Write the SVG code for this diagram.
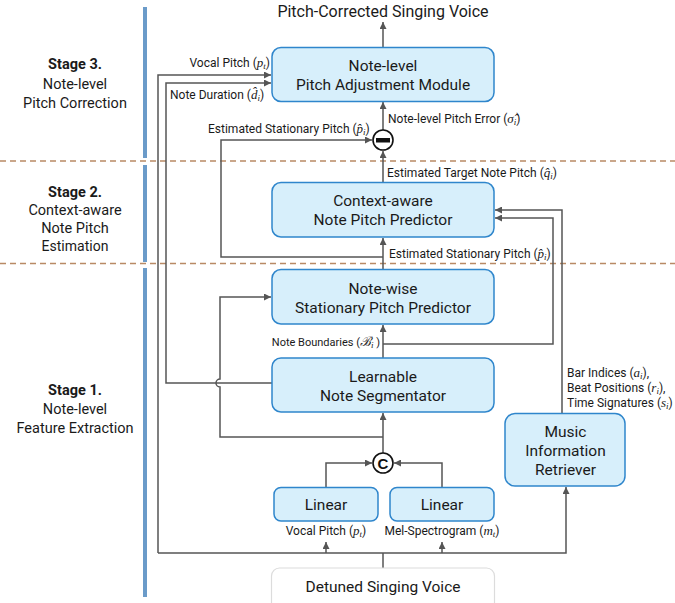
<svg xmlns="http://www.w3.org/2000/svg" width="675" height="603" viewBox="0 0 675 603">
<defs>
<style>
.bg{fill:#ffffff}
.box{fill:#d7effb;stroke:#2f86cc;stroke-width:1.5}
.inbox{fill:#ffffff;stroke:#dcdcdc;stroke-width:1.2}
.t{font-family:Roboto,"Liberation Sans",sans-serif;font-size:15.5px;fill:#1a1a1a;text-anchor:middle}
.st{font-family:Roboto,"Liberation Sans",sans-serif;font-size:14.5px;fill:#1a1a1a;text-anchor:middle}
.b{font-weight:bold}
.s{font-family:Roboto,"Liberation Sans",sans-serif;font-size:12px;fill:#1a1a1a}
.m{font-family:"Liberation Serif","DejaVu Serif",serif;font-style:italic;font-size:13px}
.sub{font-family:"Liberation Serif","DejaVu Serif",serif;font-style:italic;font-size:9px}
.c{fill:none;stroke:#555555;stroke-width:1.5}
.dash{stroke:#b98a66;stroke-width:1.3;stroke-dasharray:6 4}
.bar{fill:#6b9bc9}
.op{fill:#ffffff;stroke:#111111;stroke-width:1.6}
</style>
<marker id="ah" viewBox="0 0 10 10" refX="10" refY="5" markerWidth="8" markerHeight="7" markerUnits="userSpaceOnUse" orient="auto">
<path d="M0,0 L10,5 L0,10 z" fill="#555555"/>
</marker>
</defs>
<rect class="bg" x="0" y="0" width="675" height="603"/>

<g id="stage-separators">
<line class="dash" x1="0" y1="161" x2="675" y2="161"/>
<line class="dash" x1="0" y1="263.5" x2="675" y2="263.5"/>
<rect class="bar" x="143" y="7" width="4" height="151"/>
<rect class="bar" x="143" y="165" width="4" height="97"/>
<rect class="bar" x="143" y="268" width="4" height="329"/>
</g>

<g id="stage-labels">
<text class="st b" x="75" y="69">Stage 3.</text>
<text class="st" x="75" y="89">Note-level</text>
<text class="st" x="75" y="108">Pitch Correction</text>
<text class="st b" x="75" y="197">Stage 2.</text>
<text class="st" x="75" y="215">Context-aware</text>
<text class="st" x="75" y="233">Note Pitch</text>
<text class="st" x="75" y="251" style="font-size:14px">Estimation</text>
<text class="st b" x="75" y="395">Stage 1.</text>
<text class="st" x="75" y="414">Note-level</text>
<text class="st" x="75" y="433">Feature Extraction</text>
</g>

<g id="connectors">
<path class="c" d="M383,47 V22" marker-end="url(#ah)"/>
<path class="c" d="M383,130 V102" marker-end="url(#ah)"/>
<path class="c" d="M383,182 V151" marker-end="url(#ah)"/>
<path class="c" d="M383,257 H221 V140 H372" marker-end="url(#ah)"/>
<path class="c" d="M383,269 V238" marker-end="url(#ah)"/>
<path class="c" d="M383,358 V325" marker-end="url(#ah)"/>
<path class="c" d="M383,344 H553 V218 H495" marker-end="url(#ah)"/>
<path class="c" d="M562,413 V210 H495" marker-end="url(#ah)"/>
<path class="c" d="M383,453 V413" marker-end="url(#ah)"/>
<path class="c" d="M383,437 H220 V387 A4,4 0 0 1 220,379 V297 H271" marker-end="url(#ah)"/>
<path class="c" d="M272,383 H166 V83 H271" marker-end="url(#ah)"/>
<path class="c" d="M326,487 V463 H372" marker-end="url(#ah)"/>
<path class="c" d="M442,487 V463 H394" marker-end="url(#ah)"/>
<path class="c" d="M383,568 V553"/>
<path class="c" d="M158,553 H566 V487" marker-end="url(#ah)"/>
<path class="c" d="M158,553 V75 H271" marker-end="url(#ah)"/>
<path class="c" d="M326,553 V542" marker-end="url(#ah)"/>
<path class="c" d="M442,553 V542" marker-end="url(#ah)"/>
</g>

<g id="connector-labels">
<text class="t" x="383" y="17" style="font-size:16px">Pitch-Corrected Singing Voice</text>
<text class="s" x="270" y="67" text-anchor="end">Vocal Pitch (<tspan class="m">p</tspan><tspan class="sub" dy="2">t</tspan><tspan dy="-2">)</tspan></text>
<text class="s" x="170" y="99">Note Duration (<tspan class="m">d&#x302;</tspan><tspan class="sub" dy="2">i</tspan><tspan dy="-2">)</tspan></text>
<text class="s" x="388" y="123">Note-level Pitch Error (<tspan class="m">σ&#x302;</tspan><tspan class="sub" dy="2">i</tspan><tspan dy="-2">)</tspan></text>
<text class="s" x="208" y="133">Estimated Stationary Pitch (<tspan class="m">p&#x302;</tspan><tspan class="sub" dy="2">i</tspan><tspan dy="-2">)</tspan></text>
<text class="s" x="387" y="177">Estimated Target Note Pitch (<tspan class="m">q&#x302;</tspan><tspan class="sub" dy="2">i</tspan><tspan dy="-2">)</tspan></text>
<text class="s" x="389" y="258">Estimated Stationary Pitch (<tspan class="m">p&#x302;</tspan><tspan class="sub" dy="2">i</tspan><tspan dy="-2">)</tspan></text>
<text class="s" x="380" y="346" text-anchor="end" style="font-size:11px">Note Boundaries  (<tspan class="m">ℬ</tspan><tspan class="sub" dy="2">i</tspan><tspan dy="-2"> )</tspan></text>
<text class="s" x="567" y="377">Bar Indices (<tspan class="m">a</tspan><tspan class="sub" dy="2">i</tspan><tspan dy="-2">),</tspan></text>
<text class="s" x="567" y="392">Beat Positions (<tspan class="m">r</tspan><tspan class="sub" dy="2">i</tspan><tspan dy="-2">),</tspan></text>
<text class="s" x="567" y="407">Time Signatures (<tspan class="m">s</tspan><tspan class="sub" dy="2">i</tspan><tspan dy="-2">)</tspan></text>
<text class="s" x="326" y="535" text-anchor="middle">Vocal Pitch (<tspan class="m">p</tspan><tspan class="sub" dy="2">t</tspan><tspan dy="-2">)</tspan></text>
<text class="s" x="442" y="535" text-anchor="middle">Mel-Spectrogram (<tspan class="m">m</tspan><tspan class="sub" dy="2">t</tspan><tspan dy="-2">)</tspan></text>
</g>

<g id="pitch-adjustment">
<rect class="box" x="272" y="47.5" width="222" height="54" rx="9"/>
<text class="t" x="383" y="71">Note-level</text>
<text class="t" x="383" y="89.5">Pitch Adjustment Module</text>
</g>

<g id="subtract">
<circle class="op" cx="383" cy="140" r="10"/>
<rect x="376" y="138" width="14" height="4.5" fill="#111111"/>
</g>

<g id="context-predictor">
<rect class="box" x="272" y="182.5" width="222" height="54.5" rx="9"/>
<text class="t" x="383" y="206">Context-aware</text>
<text class="t" x="383" y="225">Note Pitch Predictor</text>
</g>

<g id="stationary-predictor">
<rect class="box" x="272" y="269.5" width="222" height="54.5" rx="9"/>
<text class="t" x="383" y="294">Note-wise</text>
<text class="t" x="383" y="312.5">Stationary Pitch Predictor</text>
</g>

<g id="note-segmentator">
<rect class="box" x="272" y="358" width="222" height="54" rx="9"/>
<text class="t" x="383" y="382">Learnable</text>
<text class="t" x="383" y="400.5">Note Segmentator</text>
</g>

<g id="music-retriever">
<rect class="box" x="505" y="413.5" width="120" height="72.5" rx="10"/>
<text class="t" x="565.5" y="437">Music</text>
<text class="t" x="565.5" y="456">Information</text>
<text class="t" x="565.5" y="475">Retriever</text>
</g>

<g id="concat">
<circle class="op" cx="383" cy="463" r="10"/>
<text x="383" y="468.5" text-anchor="middle" style="font-family:'Liberation Sans',Arial,sans-serif;font-size:15px;font-weight:bold;fill:#111111">C</text>
</g>

<g id="linear-pitch">
<rect class="box" x="274" y="487.5" width="104" height="33.5" rx="7"/>
<text class="t" x="326" y="509.5">Linear</text>
</g>

<g id="linear-mel">
<rect class="box" x="390" y="487.5" width="104" height="33.5" rx="7"/>
<text class="t" x="442" y="509.5">Linear</text>
</g>

<g id="detuned-voice">
<rect class="inbox" x="271.5" y="568" width="223" height="45" rx="8"/>
<text class="t" x="383" y="592">Detuned Singing Voice</text>
</g>
</svg>
